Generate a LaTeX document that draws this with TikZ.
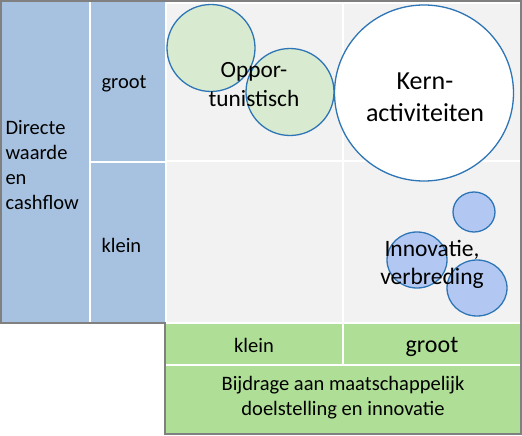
\documentclass[tikz,border=0pt]{standalone}
\usepackage{fontspec}
\setmainfont{Carlito}
\usetikzlibrary{shapes.geometric}
\definecolor{vakblauw}{RGB}{167,194,224}
\definecolor{vakgroen}{RGB}{175,223,150}
\definecolor{vakgrijs}{RGB}{242,242,242}
\definecolor{randgrijs}{RGB}{128,128,128}
\definecolor{lijnblauw}{RGB}{46,117,182}
\definecolor{belgroen}{RGB}{216,235,208}
\definecolor{belblauw}{RGB}{178,200,242}

\begin{document}
\begin{tikzpicture}[x=1pt, y=-1pt,
	raster/.style={draw=white, line width=1.5pt},
	bel/.style={ellipse, draw=lijnblauw, line width=1.3pt, inner sep=0pt},
	tekst/.style={font=\fontsize{20.5}{25}\selectfont, align=left}]
			%%%%% START %%%%%
			\useasboundingbox (0,0) rectangle (522,436);
			
			\fill[vakblauw] (1,1) rectangle (165,323);
			\fill[vakgrijs] (165,1) rectangle (521,323);
			\fill[vakgroen] (165,323) rectangle (521,434);
			
			\draw[raster] (90,1) -- (90,323);
			\draw[raster] (90,162) -- (165,162);
			\draw[raster] (166,3) -- (520,3);
			\draw[raster] (166,3) -- (166,323);
			\draw[raster] (343,3) -- (343,323);
			\draw[raster] (166,161) -- (520,161);
			\draw[raster] (165,323) -- (521,323);
			\draw[raster] (343,323) -- (343,365);
			\draw[raster] (165,365) -- (521,365);
			
			\draw[randgrijs, line width=2pt] (1,1) -- (521,1) -- (521,434) -- (165,434) -- (165,323) -- (1,323) -- cycle;
			
			\node[bel, fill=belgroen, minimum width=88, minimum height=87] (opp1) at (211,48) {};
			\node[bel, fill=belgroen, minimum width=88, minimum height=87] (opp2) at (290,92) {};
			\node[bel, fill=white, minimum width=179, minimum height=176] (kern) at (424,93) {};
			\node[bel, fill=belblauw, minimum width=42, minimum height=40] (inno1) at (474,212) {};
			\node[bel, fill=belblauw, minimum width=60, minimum height=56] (inno2) at (417,260) {};
			\node[bel, fill=belblauw, minimum width=60, minimum height=56] (inno3) at (477,288) {};
			
			\node[font=\fontsize{23.3}{29}\selectfont, align=center] (opptekst) at (254,85) {Oppor-\\tunistisch};
			\node[font=\fontsize{26}{32}\selectfont, align=center] (kerntekst) at (425,97) {Kern-\\activiteiten};
			\node[font=\fontsize{23.5}{28}\selectfont, align=center] (innotekst) at (432,264) {Innovatie,\\verbreding};
			
			\node[tekst, anchor=west] (waarde) at (2,165) {Directe\\waarde\\en\\cashflow};
			\node[tekst, anchor=west] (ygroot) at (98,84) {groot};
			\node[tekst, anchor=west] (yklein) at (98,245) {klein};
			
			\node[tekst] (xklein) at (254,345) {klein};
			\node[font=\fontsize{24}{28}\selectfont] (xgroot) at (432,347) {groot};
			\node[tekst, align=center] (bijdrage) at (343,398) {Bijdrage aan maatschappelijk\\doelstelling en innovatie};
			%%%%% END %%%%%
\end{tikzpicture}
\end{document}
